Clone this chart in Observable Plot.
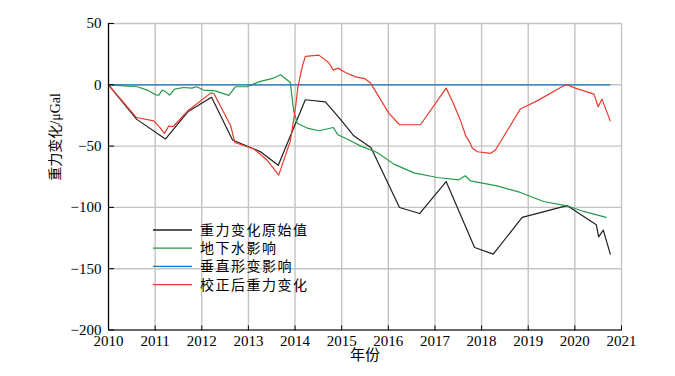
<!DOCTYPE html>
<html>
<head>
<meta charset="utf-8">
<script src="https://cdn.jsdelivr.net/npm/d3@7"></script>
<script src="https://cdn.jsdelivr.net/npm/@observablehq/plot@0.6"></script>
<style>
  html, body { margin: 0; padding: 0; background: #ffffff; }
  #chart svg { display: block; }
</style>
</head>
<body>
<div id="chart"></div>
<script>
// ---- Tick labels and titles ----
const xTicks = [2010, 2011, 2012, 2013, 2014, 2015, 2016, 2017, 2018, 2019, 2020, 2021];
const yTicks = [50, 0, -50, -100, -150, -200];
const xTitle = "年份";
const yTitle = "重力变化/μGal";

// ---- Series names (legend order) ----
const seriesNames = ["重力变化原始值", "地下水影响", "垂直形变影响", "校正后重力变化"];

// ---- 重力变化原始值 ----
const rawYears = [2010.00, 2010.60, 2011.22, 2011.70, 2012.21, 2012.66, 2013.26, 2013.64, 2014.22, 2014.65,
  2014.97, 2015.26, 2015.63, 2016.24, 2016.67, 2017.24, 2017.85, 2018.25, 2018.87, 2019.83,
  2020.46, 2020.51, 2020.61, 2020.76];
const rawValues = [0, -28.0, -44.3, -22.0, -10.2, -45.0, -54.6, -65.7, -12.2, -13.9,
  -28.0, -41.6, -51.4, -100.1, -105.0, -78.9, -132.7, -138.1, -108.2, -98.5,
  -114.2, -124.0, -118.5, -138.1];

// ---- 地下水影响 ----
const groundwaterYears = [2010.00, 2010.62, 2010.83, 2011.01, 2011.08, 2011.15, 2011.22, 2011.31, 2011.42, 2011.61,
  2011.79, 2011.89, 2012.04, 2012.29, 2012.58, 2012.72, 2012.97, 2013.22, 2013.54, 2013.69,
  2013.90, 2013.94, 2013.97, 2014.05, 2014.26, 2014.51, 2014.82, 2014.92, 2015.19, 2015.40,
  2015.76, 2016.12, 2016.55, 2017.05, 2017.51, 2017.65, 2017.76, 2018.33, 2018.83, 2019.33,
  2019.83, 2020.19, 2020.67];
const groundwaterValues = [0, -1.6, -4.3, -8.2, -8.4, -4.3, -5.5, -8.4, -3.5, -2.2,
  -2.7, -1.6, -4.3, -4.9, -8.6, -1.6, -1.6, 2.4, 5.5, 8.2,
  1.9, -11.7, -21.2, -31.6, -35.3, -37.5, -34.8, -40.8, -45.7, -49.8,
  -55.2, -64.7, -71.8, -75.6, -77.5, -74.2, -78.3, -82.4, -87.8, -95.2,
  -98.7, -103.3, -108.2];

// ---- 垂直形变影响 ----
const deformationYears = [2010.00, 2020.75];
const deformationValues = [0, 0];

// ---- 校正后重力变化 ----
const correctedYears = [2010.00, 2010.60, 2010.97, 2011.10, 2011.20, 2011.29, 2011.39, 2011.70, 2012.19, 2012.26,
  2012.62, 2012.71, 2013.12, 2013.40, 2013.65, 2013.90, 2014.01, 2014.06, 2014.15, 2014.22,
  2014.51, 2014.72, 2014.82, 2014.92, 2015.08, 2015.30, 2015.49, 2015.62, 2016.01, 2016.24,
  2016.69, 2017.24, 2017.40, 2017.55, 2017.66, 2017.73, 2017.80, 2017.91, 2018.19, 2018.30,
  2018.83, 2019.19, 2019.76, 2019.83, 2020.01, 2020.41, 2020.50, 2020.58, 2020.76];
const correctedValues = [0, -26.7, -29.4, -34.8, -39.7, -33.7, -34.0, -21.2, -6.8, -7.1,
  -33.4, -47.1, -52.4, -61.4, -73.7, -45.7, -18.5, -2.2, 14.1, 23.2,
  24.2, 18.2, 12.0, 13.6, 10.0, 6.5, 5.1, 1.4, -23.1, -32.6,
  -32.6, -2.7, -15.7, -29.4, -41.6, -45.7, -51.6, -54.6, -56.0, -53.0,
  -19.8, -13.1, -0.8, 0, -2.7, -7.6, -17.9, -11.7, -29.4];

// ---- Styles ----
const seriesColors = ["#231f20", "#229a48", "#1b76bc", "#e83a2c"];
const gridColor = "#c4c4c4";
const inkColor = "#000000";

// ---- Build tidy table ----
const seriesData = [
  [rawYears, rawValues],
  [groundwaterYears, groundwaterValues],
  [deformationYears, deformationValues],
  [correctedYears, correctedValues]
];
const rows = [];
seriesData.forEach(([ys, vs], i) => {
  ys.forEach((y, j) => rows.push({series: seriesNames[i], year: y, value: vs[j]}));
});

// Legend drawn inside the frame as a function mark
function legendMark(index, scales, values, dimensions) {
  const g = d3.create("svg:g")
    .attr("font-family", "'Noto Sans CJK SC', sans-serif")
    .attr("font-size", 14)
    .attr("text-anchor", "start");
  const x0 = dimensions.marginLeft + 45;
  const x1 = dimensions.marginLeft + 84;
  const tx = dimensions.marginLeft + 92;
  const top = dimensions.marginTop + 207;
  const step = 18.2;
  seriesNames.forEach((name, i) => {
    const y = top + i * step;
    g.append("line").attr("x1", x0).attr("x2", x1).attr("y1", y).attr("y2", y)
      .attr("stroke", seriesColors[i]).attr("stroke-width", 1.3);
    g.append("text").attr("x", tx).attr("y", y).attr("dy", "0.35em")
      .attr("text-anchor", "start")
      .attr("letter-spacing", "1.5px").attr("fill", inkColor).text(name);
  });
  return g.node();
}

const chart = Plot.plot({
  width: 675,
  height: 376,
  marginLeft: 108,
  marginRight: 54,
  marginTop: 23,
  marginBottom: 46.5,
  style: {
    fontFamily: "'Liberation Serif', 'Noto Sans CJK SC', serif",
    fontSize: "15px",
    background: "#ffffff",
    color: inkColor
  },
  x: {domain: [2010, 2021]},
  y: {domain: [-200, 50]},
  color: {domain: seriesNames, range: seriesColors},
  marks: [
    Plot.ruleX(xTicks, {stroke: gridColor, strokeWidth: 1.4}),
    Plot.ruleY(yTicks, {stroke: gridColor, strokeWidth: 1.4}),
    Plot.line(rows, {x: "year", y: "value", z: "series", stroke: "series", strokeWidth: 1.2}),
    Plot.ruleX([xTicks[0]], {stroke: inkColor, strokeWidth: 1.2}),
    Plot.ruleY([yTicks[yTicks.length - 1]], {stroke: inkColor, strokeWidth: 1.2}),
    Plot.axisX({ticks: xTicks, tickSize: 0, tickPadding: 5, tickFormat: d => String(d), label: null}),
    Plot.axisX({ticks: xTicks, anchor: "top", frameAnchor: "bottom", tickSize: 5, tickFormat: () => "", label: null}),
    Plot.axisY({ticks: yTicks, tickSize: 0, tickPadding: 7, label: null}),
    Plot.axisY({ticks: yTicks, anchor: "right", frameAnchor: "left", tickSize: 5, tickFormat: () => "", label: null}),
    Plot.text([yTitle], {frameAnchor: "left", dx: -53, dy: 4, rotate: -90, fontSize: 14, fill: inkColor}),
    Plot.text([xTitle], {frameAnchor: "bottom", dy: 30, fontSize: 15, fill: inkColor}),
    legendMark
  ]
});
document.getElementById("chart").appendChild(chart);
</script>
</body>
</html>
